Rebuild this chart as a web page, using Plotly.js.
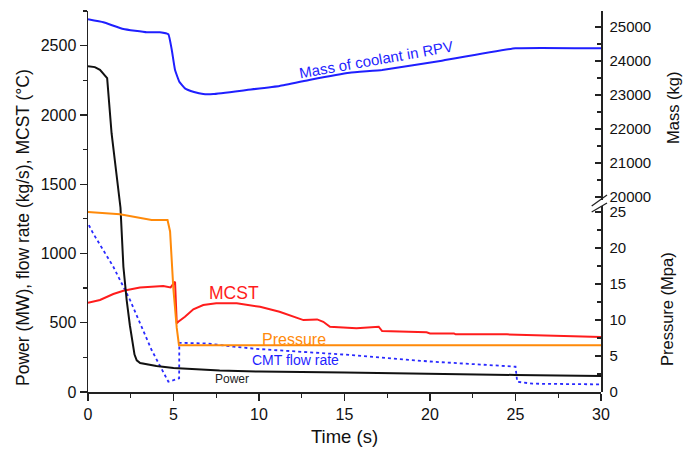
<!DOCTYPE html>
<html>
<head>
<meta charset="utf-8">
<script src="https://cdn.plot.ly/plotly-3.0.1.min.js"></script>
<style>html,body{margin:0;padding:0;background:#fff;}#chart{width:700px;height:452px;}</style>
</head>
<body>
<div id="chart"></div>
<script>
// ---- data ----
const timePower = [0, 0.4, 0.7, 0.95, 1.12, 1.38, 1.77, 1.9, 2.07, 2.26, 2.45, 2.6, 2.72, 2.85, 3.05, 4, 5, 7.7, 10, 15, 20, 25, 30];
const power     = [2352, 2345, 2325, 2292, 2265, 1866, 1445, 1330, 904, 664, 480, 360, 270, 228, 209, 188, 173, 155, 148, 140, 130, 123, 116];

const timeMcst = [0, 0.7, 1.48, 2.07, 3.04, 4.4, 4.83, 4.95, 5.09, 5.19, 5.28, 5.67, 6.16, 6.74, 7.5, 8.7, 10.06, 11.2, 12, 12.6, 13.4, 13.76, 14.15, 15.1, 15.7, 17, 17.2, 19.8, 20, 21.4, 21.5, 24.5, 30];
const mcst     = [644, 664, 707, 731, 755, 765, 755, 772, 796, 496, 507, 543, 597, 628, 640, 640, 615, 579, 543, 519, 524, 507, 471, 467, 460, 471, 440, 431, 423, 423, 416, 416, 397];

const timeCmt = [0.05, 0.3, 1.48, 2.46, 3.72, 4.7, 5.0, 5.33, 5.34, 7, 8.5, 10, 15, 20, 25, 25.1, 26, 30];
const cmtFlow = [1205, 1145, 904, 664, 303, 74, 85, 99, 355, 350, 327, 310, 270, 220, 183, 74, 60, 55];

const timePressure = [0, 1.87, 3.72, 4.65, 4.8, 4.99, 5.19, 5.32, 30];
const pressure     = [25.0, 24.7, 23.9, 23.9, 22.3, 14.4, 8.9, 6.5, 6.5];

const timeMass = [0, 0.9, 2.07, 3.43, 4.2, 4.7, 4.9, 5.09, 5.34, 5.67, 6.2, 6.74, 7.33, 9.28, 11.2, 13, 15.3, 17.2, 20.6, 25, 30];
const mass     = [25226, 25138, 24941, 24844, 24844, 24785, 24324, 23735, 23391, 23196, 23090, 23029, 23029, 23147, 23265, 23450, 23656, 23735, 24000, 24373, 24373];

const leftTitle = 'Power (MW), flow rate (kg/s), MCST (°C)';
const massTitle = 'Mass (kg)';
const pressureTitle = 'Pressure (Mpa)';
const xTitle = 'Time (s)';

// ---- styles ----
const FONT = 'Liberation Sans, Arial, Helvetica, sans-serif';
const BLUE = '#1f1fff';
const RED = '#ff1c1c';
const ORANGE = '#ff8a0a';

const traces = [
  {x: timeMass, y: mass, xaxis: 'x', yaxis: 'y2', mode: 'lines', line: {color: BLUE, width: 2, shape: 'spline', smoothing: 0.3}, name: 'Mass of coolant in RPV'},
  {x: timePressure, y: pressure, xaxis: 'x', yaxis: 'y3', mode: 'lines', line: {color: ORANGE, width: 2}, name: 'Pressure'},
  {x: timeCmt, y: cmtFlow, xaxis: 'x', yaxis: 'y', mode: 'lines', line: {color: '#2a2aff', width: 1.8, dash: 'dot'}, name: 'CMT flow rate'},
  {x: timeMcst, y: mcst, xaxis: 'x', yaxis: 'y', mode: 'lines', line: {color: RED, width: 2}, name: 'MCST'},
  {x: timePower, y: power, xaxis: 'x', yaxis: 'y', mode: 'lines', line: {color: '#111', width: 2}, name: 'Power'}
];

const axLine = {showline: true, linecolor: '#222', linewidth: 1.5, showgrid: false, zeroline: false, tickcolor: '#222', tickwidth: 1.3, tickfont: {family: FONT, size: 16, color: '#111'}};
const rightFont = {family: FONT, size: 15, color: '#111'};

function paperX(px) { return (px - 88) / 513; }
function paperY(py) { return (392 - py) / 381; }

const layout = {
  width: 700, height: 452,
  margin: {l: 88, r: 99, t: 11, b: 60},
  paper_bgcolor: '#fff', plot_bgcolor: 'rgba(0,0,0,0)',
  showlegend: false,
  font: {family: FONT, color: '#111'},
  xaxis: Object.assign({}, axLine, {
    range: [0, 30], domain: [0, 1], anchor: 'y',
    ticks: 'outside', ticklen: 7, dtick: 5, tick0: 0,
    minor: {ticks: 'outside', ticklen: 4, dtick: 2.5, tickcolor: '#222', tickwidth: 1.2},
    title: {text: xTitle, font: {family: FONT, size: 18.5, color: '#111'}, standoff: 8}
  }),
  xaxis2: Object.assign({}, axLine, {
    range: [0, 30], overlaying: 'x', side: 'top', anchor: 'y',
    ticks: 'inside', ticklen: 6, dtick: 5, tick0: 0, showticklabels: false
  }),
  yaxis: Object.assign({}, axLine, {
    range: [0, 2750], domain: [0, 1], anchor: 'x',
    ticks: 'outside', ticklen: 7, dtick: 500, tick0: 0,
    minor: {ticks: 'outside', ticklen: 4, dtick: 250, tickcolor: '#222', tickwidth: 1.2}
  }),
  yaxis2: Object.assign({}, axLine, {
    range: [19924, 25470], domain: [0.505, 1], anchor: 'x', side: 'right',
    ticks: 'inside', ticklen: 6, dtick: 1000, tick0: 20000, tickformat: 'd', tickfont: rightFont,
    minor: {ticks: 'inside', ticklen: 4, dtick: 500, tickcolor: '#222', tickwidth: 1.2},
    ticklabelstandoff: 4
  }),
  yaxis3: Object.assign({}, axLine, {
    range: [0, 25.83], domain: [0, 0.488], anchor: 'x', side: 'right',
    ticks: 'inside', ticklen: 6, dtick: 5, tick0: 0, tickfont: rightFont,
    minor: {ticks: 'inside', ticklen: 4, dtick: 2.5, tickcolor: '#222', tickwidth: 1.2},
    ticklabelstandoff: 4
  }),
  shapes: [
    {type: 'line', xref: 'paper', yref: 'paper', x0: paperX(591.7), y0: paperY(206), x1: paperX(607), y1: paperY(195), line: {color: '#222', width: 1.3}},
    {type: 'line', xref: 'paper', yref: 'paper', x0: paperX(591.7), y0: paperY(212), x1: paperX(607), y1: paperY(203), line: {color: '#222', width: 1.3}}
  ],
  annotations: [
    {text: leftTitle, xref: 'paper', yref: 'paper', x: paperX(23), y: paperY(228), textangle: -90, showarrow: false, xanchor: 'center', yanchor: 'middle', font: {family: FONT, size: 17.5, color: '#111'}},
    {text: massTitle, xref: 'paper', yref: 'paper', x: paperX(673), y: paperY(108), textangle: -90, showarrow: false, xanchor: 'center', yanchor: 'middle', font: {family: FONT, size: 16.5, color: '#111'}},
    {text: pressureTitle, xref: 'paper', yref: 'paper', x: paperX(667), y: paperY(309), textangle: -90, showarrow: false, xanchor: 'center', yanchor: 'middle', font: {family: FONT, size: 16.5, color: '#111'}},
    {text: 'Mass of coolant in RPV', xref: 'paper', yref: 'paper', x: paperX(376), y: paperY(59), textangle: -10, showarrow: false, xanchor: 'center', yanchor: 'middle', font: {family: FONT, size: 15, color: BLUE}},
    {text: 'MCST', xref: 'paper', yref: 'paper', x: paperX(233.5), y: paperY(293), showarrow: false, xanchor: 'center', yanchor: 'middle', font: {family: FONT, size: 17.5, color: RED}},
    {text: 'Pressure', xref: 'paper', yref: 'paper', x: paperX(294), y: paperY(339.5), showarrow: false, xanchor: 'center', yanchor: 'middle', font: {family: FONT, size: 16, color: ORANGE}},
    {text: 'CMT flow rate', xref: 'paper', yref: 'paper', x: paperX(295), y: paperY(360), showarrow: false, xanchor: 'center', yanchor: 'middle', font: {family: FONT, size: 14, color: BLUE}},
    {text: 'Power', xref: 'paper', yref: 'paper', x: paperX(232), y: paperY(379), showarrow: false, xanchor: 'center', yanchor: 'middle', font: {family: FONT, size: 12, color: '#222'}}
  ]
};

Plotly.newPlot('chart', traces, layout, {displayModeBar: false, staticPlot: true});
</script>
</body>
</html>
